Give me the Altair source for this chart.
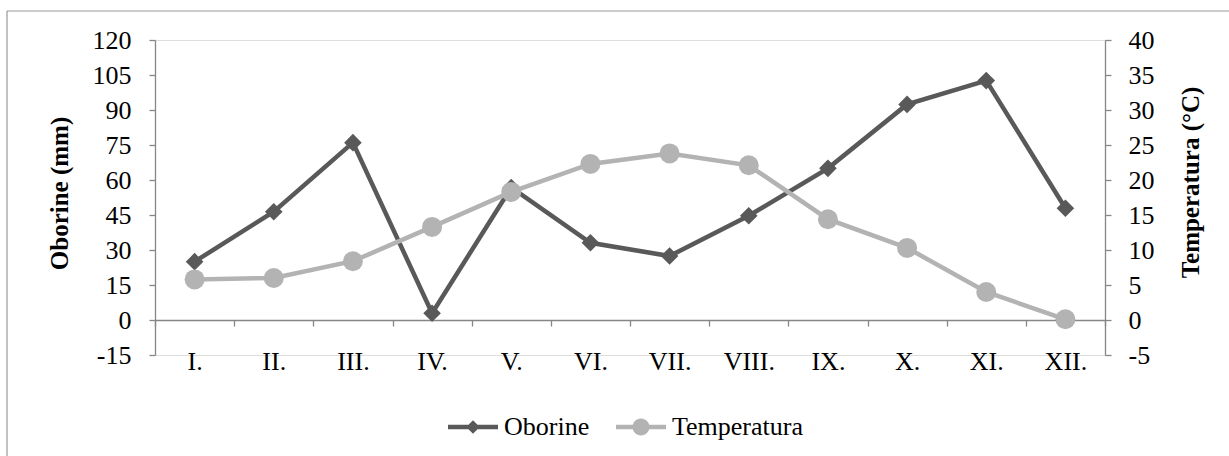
import altair as alt
import pandas as pd

months = ["I.", "II.", "III.", "IV.", "V.", "VI.", "VII.", "VIII.", "IX.", "X.", "XI.", "XII."]
oborine = [25.0, 46.4, 76.0, 2.9, 56.8, 33.1, 27.4, 44.7, 65.0, 92.4, 102.6, 47.9]
temperatura = [5.8, 6.0, 8.4, 13.3, 18.3, 22.3, 23.8, 22.1, 14.4, 10.3, 4.0, 0.1]
series = ["Oborine", "Temperatura"]
left_ticks = [-15, 0, 15, 30, 45, 60, 75, 90, 105, 120]
right_ticks = [-5, 0, 5, 10, 15, 20, 25, 30, 35, 40]

df = pd.DataFrame({"month": months, "oborine": oborine, "temperatura": temperatura})

FONT = "Liberation Serif"
DARK = "#595959"
LIGHT = "#b3b3b3"
AXIS = "#868686"
FS = 26

W, H = 950, 315
PL, PT = 155, 40
TOTAL_W, TOTAL_H = 1229, 456

x_enc = alt.X(
    "month:N", sort=months,
    scale=alt.Scale(type="band", paddingInner=0, paddingOuter=0),
    axis=alt.Axis(title=None, orient="bottom", offset=-35, tickBand="extent",
                  domainColor=AXIS, domainWidth=1.3, tickColor=AXIS, tickWidth=1.3,
                  tickSize=6, labelPadding=22, labelAngle=0, labelFont=FONT,
                  labelFontSize=FS, labelColor="black", grid=False),
)

y_left = alt.Y(
    "oborine:Q",
    scale=alt.Scale(domain=[-15, 120], nice=False, zero=False),
    axis=alt.Axis(values=left_ticks, title="Oborine (mm)", grid=False,
                  labelExpr="'' + datum.value",
                  domainColor=AXIS, domainWidth=1.3, tickColor=AXIS, tickWidth=1.3,
                  tickSize=6, labelPadding=18, labelFont=FONT, labelFontSize=FS,
                  labelColor="black", titleFont=FONT, titleFontSize=25,
                  titleFontWeight="bold", titleColor="black", titlePadding=20,
                  titleY=153),
)

y_right = alt.Y(
    "temperatura:Q",
    scale=alt.Scale(domain=[-5, 40], nice=False, zero=False),
    axis=alt.Axis(values=right_ticks, orient="right", title="Temperatura (°C)", grid=False,
                  labelExpr="'' + datum.value",
                  domainColor=AXIS, domainWidth=1.3, tickColor=AXIS, tickWidth=1.3,
                  tickSize=6, labelPadding=17, labelFont=FONT, labelFontSize=FS,
                  labelColor="black", titleFont=FONT, titleFontSize=25,
                  titleFontWeight="bold", titleColor="black", titlePadding=49,
                  titleAngle=270, titleY=142),
)

base = alt.Chart(df)

ob_line = base.mark_line(color=DARK, strokeWidth=4.5).encode(x=x_enc, y=y_left)
ob_pts = base.mark_point(filled=True, opacity=1, shape="diamond", size=310, color=DARK).encode(x=x_enc, y=y_left)

path_diamond = "M-1,-0.09L1,-0.09L1,0.09L-1,0.09Z M0,-0.27L0.27,0L0,0.27L-0.27,0Z"
path_circle = "M-1,-0.09L1,-0.09L1,0.09L-1,0.09Z M-0.34,0A0.34,0.34 0 1,1 0.34,0A0.34,0.34 0 1,1 -0.34,0Z"

leg = alt.Legend(orient="none", legendX=293, legendY=362, direction="horizontal", title=None,
                 symbolSize=2500, symbolOpacity=1, symbolStrokeWidth=0, labelFont=FONT,
                 labelFontSize=FS, labelColor="black", labelOffset=6, columnPadding=26,
                 padding=0)

legend_layer = base.transform_calculate(s="'Oborine'").transform_filter("false").mark_point(
    filled=True, opacity=1).encode(
    x=x_enc, y=y_left,
    color=alt.Color("s:N", scale=alt.Scale(domain=series, range=[DARK, LIGHT]), legend=leg),
    shape=alt.Shape("s:N", scale=alt.Scale(domain=series, range=[path_diamond, path_circle]), legend=leg),
)

left_layer = alt.layer(ob_line, ob_pts, legend_layer)

t_line = base.mark_line(color=LIGHT, strokeWidth=4.5).encode(x=x_enc, y=y_right)
t_pts = base.mark_point(filled=True, opacity=1, shape="circle", size=400, color=LIGHT).encode(x=x_enc, y=y_right)
right_layer = alt.layer(t_line, t_pts)

frame_df = pd.DataFrame({"k": [0]})
frame_top = alt.Chart(frame_df).mark_rule(color="#999999", strokeWidth=1.2).encode(
    x=alt.value(7 - PL), x2=alt.value(TOTAL_W - PL), y=alt.value(11 - PT))
frame_left = alt.Chart(frame_df).mark_rule(color="#999999", strokeWidth=1.2).encode(
    x=alt.value(7 - PL), y=alt.value(11 - PT), y2=alt.value(TOTAL_H - PT))

chart = alt.layer(left_layer, right_layer, frame_top, frame_left).resolve_scale(
    y="independent"
).properties(
    width=W, height=H,
    autosize=alt.AutoSizeParams(type="none"),
    padding={"left": PL, "top": PT, "right": TOTAL_W - PL - W, "bottom": TOTAL_H - PT - H},
).configure_view(stroke=None).configure(background="white")

chart.save("out.html", embed_options={"renderer": "svg", "actions": False})
